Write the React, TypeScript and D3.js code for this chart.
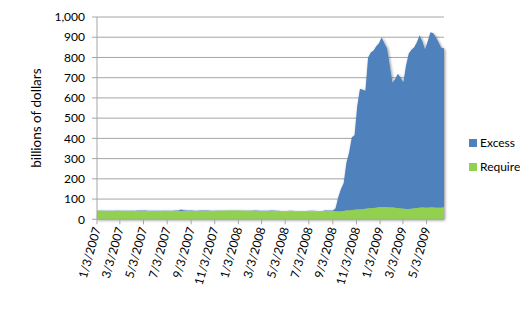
import React from "react";
import * as d3 from "d3";

// Weekly observations (Wednesdays) from 1/3/2007 to 6/17/2009
const startDate = "1/3/2007";
const weekCount = 129;

// Excess reserves, billions of dollars
const excess2007 = [
  2, 1.5, 1.5, 1.5, 1.5, 1.5, 1.5, 2, 2, 1.5,
  1.5, 1.5, 1.5, 1.5, 1.5, 2, 2, 2.5, 2.5, 2,
  1.5, 1.5, 1.5, 1.5, 1.5, 1.5, 1.5, 1.5, 1.5, 2,
  3, 8, 4, 2, 2, 2, 1.5, 1.5, 2, 2.5,
  2.5, 2, 1.5, 1.5, 1.5, 1.5, 1.5, 1.5, 2, 2,
  2, 2,
];
const excess2008 = [
  2, 2, 1.5, 1.5, 1.5, 1.5, 2, 2, 1.5, 1.5,
  1.5, 1.5, 2, 2, 1.5, 1.5, 1.5, 1.5, 1.5, 2,
  2, 1.5, 1.5, 1.5, 1.5, 1.5, 2, 2, 2, 1.5,
  1.5, 1.5, 2, 2,
];
const excessCrisis = [
  2, 4, 16, 72, 111, 139, 237, 286, 360, 368,
  512, 596, 590, 583, 746, 770, 779, 798, 811, 840,
  810, 786, 702, 617, 638, 665, 647, 626, 709, 769,
  786, 796, 819, 853, 822, 783, 823, 867, 862, 843,
  818, 791, 787,
];

// Required reserves, billions of dollars
const required2007 = [
  43, 42, 42, 41, 41, 41, 41, 42, 42, 41,
  41, 41, 41, 42, 41, 41, 41, 41, 41, 40,
  41, 41, 41, 41, 41, 42, 41, 41, 41, 41,
  41, 41, 41, 41, 41, 41, 41, 41, 41, 41,
  41, 41, 41, 41, 42, 42, 42, 42, 43, 43,
  43, 43,
];
const required2008 = [
  43, 43, 42, 42, 42, 42, 41, 41, 41, 41,
  41, 41, 41, 41, 41, 41, 40, 40, 40, 40,
  40, 40, 40, 40, 40, 40, 40, 40, 40, 40,
  40, 40, 41, 41,
];
const requiredCrisis = [
  41, 40, 39, 38, 39, 41, 43, 44, 45, 47,
  48, 49, 50, 52, 54, 55, 56, 57, 59, 60,
  60, 59, 58, 58, 57, 55, 53, 52, 51, 51,
  52, 54, 56, 57, 58, 57, 57, 58, 58, 57,
  57, 57, 58,
];

const xTickLabels = [
  "1/3/2007", "3/3/2007", "5/3/2007", "7/3/2007", "9/3/2007", "11/3/2007",
  "1/3/2008", "3/3/2008", "5/3/2008", "7/3/2008", "9/3/2008", "11/3/2008",
  "1/3/2009", "3/3/2009", "5/3/2009",
];
const yTicks = [0, 100, 200, 300, 400, 500, 600, 700, 800, 900, 1000];
const seriesNames = ["Excess", "Required"];

const BLUE = "#4F81BD";
const GREEN = "#92D050";
const FONT = "Lato, 'Open Sans', sans-serif";

export default function App() {
  const parse = d3.timeParse("%m/%d/%Y");
  const start = parse(startDate) as Date;
  const dates = d3.range(weekCount).map((i) => d3.timeDay.offset(start, 7 * i));
  const excess = [...excess2007, ...excess2008, ...excessCrisis];
  const required = [...required2007, ...required2008, ...requiredCrisis];
  const data = dates.map((d, i) => ({ date: d, req: required[i], exc: excess[i] }));

  const left = 97, right = 444, top = 17, bottom = 219.3;
  const x = d3.scaleTime().domain([dates[0], dates[dates.length - 1]]).range([left, right]);
  const y = d3.scaleLinear().domain([0, 1000]).range([bottom, top]);

  const reqArea = d3.area<any>()
    .x((d) => x(d.date))
    .y0(() => y(0))
    .y1((d) => y(d.req))
    .curve(d3.curveLinear);
  const excArea = d3.area<any>()
    .x((d) => x(d.date))
    .y0((d) => y(d.req))
    .y1((d) => y(d.req + d.exc))
    .curve(d3.curveLinear);

  const fmt = d3.format(",");
  const gridColor = "#a6a6a6";

  return (
    <svg
      width={520}
      height={319}
      style={{ position: "absolute", left: 0, top: 0, background: "#fff" }}
      fontFamily={FONT}
    >
      <defs>
        <filter id="shadow" x="-10%" y="-10%" width="120%" height="120%">
          <feGaussianBlur in="SourceAlpha" stdDeviation="1.6" />
          <feOffset dx="1" dy="1" result="blur" />
          <feComponentTransfer>
            <feFuncA type="linear" slope="0.45" />
          </feComponentTransfer>
          <feMerge>
            <feMergeNode />
            <feMergeNode in="SourceGraphic" />
          </feMerge>
        </filter>
      </defs>

      {/* gridlines */}
      {yTicks.filter((t) => t > 0).map((t) => (
        <line key={t} x1={left - 5} x2={right} y1={y(t)} y2={y(t)} stroke={gridColor} strokeWidth={1} />
      ))}

      {/* areas */}
      <g filter="url(#shadow)">
        <path d={excArea(data) || ""} fill={BLUE} />
        <path d={reqArea(data) || ""} fill={GREEN} />
      </g>

      {/* axes */}
      <line x1={left} x2={left} y1={top} y2={bottom} stroke={gridColor} strokeWidth={1} />
      <line x1={left - 5} x2={right} y1={bottom} y2={bottom} stroke={gridColor} strokeWidth={1} />
      {xTickLabels.map((lab) => {
        const d = parse(lab) as Date;
        const xx = x(d);
        return (
          <g key={lab}>
            <line x1={xx} x2={xx} y1={bottom} y2={bottom + 5} stroke={gridColor} strokeWidth={1} />
            <text
              transform={`translate(${xx},${bottom + 8}) rotate(-74)`}
              textAnchor="end"
              dy="0.35em"
              fontSize={12}
              fill="#000"
            >
              {lab}
            </text>
          </g>
        );
      })}
      {yTicks.map((t) => (
        <text key={t} x={85} y={y(t)} dy="0.35em" textAnchor="end" fontSize={12} fill="#000">
          {fmt(t)}
        </text>
      ))}
      <text
        transform={`translate(36,${(top + bottom) / 2}) rotate(-90)`}
        textAnchor="middle"
        dy="0.35em"
        fontSize={13.5}
        fill="#000"
      >
        billions of dollars
      </text>

      {/* legend */}
      {seriesNames.map((name, i) => (
        <g key={name} transform={`translate(469,${139 + i * 24})`}>
          <rect x={0} y={0} width={8} height={8} fill={i === 0 ? BLUE : GREEN} />
          <text x={11} y={4} dy="0.35em" fontSize={12} fill="#000">
            {name}
          </text>
        </g>
      ))}
    </svg>
  );
}
